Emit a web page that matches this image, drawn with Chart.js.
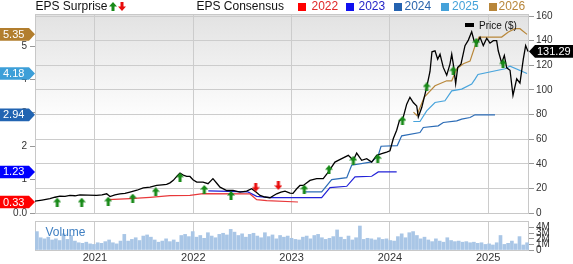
<!DOCTYPE html>
<html>
<head>
<meta charset="utf-8">
<script src="https://cdn.jsdelivr.net/npm/chart.js@4.4.1/dist/chart.umd.min.js"></script>
<style>
  body { margin: 0; background: #fff; font-family: "Liberation Sans", Arial, sans-serif; }
  #wrap { position: relative; width: 573px; height: 264px; overflow: hidden; }
  #wrap canvas { position: absolute; left: 0; }
  .lbl { position: absolute; white-space: nowrap; line-height: 14px; font-size: 12px; }
  .sq { position: absolute; width: 8px; height: 8px; top: 3px; }
</style>
</head>
<body>
<div id="wrap">
  <canvas id="main" width="573" height="224" style="top:0"></canvas>
  <canvas id="vol" width="573" height="51" style="top:213px"></canvas>

  <div class="lbl" style="left:35.5px;top:-1px;color:#111">EPS Surprise</div>
  <div class="lbl" style="left:196.5px;top:-1px;color:#111">EPS Consensus</div>
  <div class="sq" style="left:298px;background:#ff0000"></div>
  <div class="lbl" style="left:311.5px;top:-1px;color:#e02626">2022</div>
  <div class="sq" style="left:346px;background:#1010f0"></div>
  <div class="lbl" style="left:358.5px;top:-1px;color:#2424c8">2023</div>
  <div class="sq" style="left:393.5px;background:#2462b0"></div>
  <div class="lbl" style="left:404.5px;top:-1px;color:#2a64ac">2024</div>
  <div class="sq" style="left:441px;background:#45a2da"></div>
  <div class="lbl" style="left:452px;top:-1px;color:#45a2da">2025</div>
  <div class="sq" style="left:488.5px;background:#b8863a"></div>
  <div class="lbl" style="left:498.5px;top:-1px;color:#b8863a">2026</div>

  <div style="position:absolute;left:464.5px;top:22.5px;width:9.5px;height:4.5px;background:#000"></div>
  <div class="lbl" style="left:479px;top:18.5px;font-size:10px;color:#111">Price ($)</div>
  <div class="lbl" style="left:45.5px;top:225px;color:#3f7fc2">Volume</div>
</div>

<script>
// ---- data (dates as decimal years) ----
const priceDates = [
  2020.390, 2020.461, 2020.542, 2020.593, 2020.644, 2020.695, 2020.746, 2020.797, 2020.847, 2020.929,
  2021.017, 2021.071, 2021.119, 2021.153, 2021.203, 2021.254, 2021.305, 2021.356, 2021.427, 2021.491,
  2021.560, 2021.628, 2021.682, 2021.729, 2021.763, 2021.797, 2021.834, 2021.865, 2021.905, 2021.933,
  2021.966, 2021.997, 2022.035, 2022.099, 2022.150, 2022.200, 2022.241, 2022.272, 2022.340, 2022.404,
  2022.475, 2022.543, 2022.594, 2022.638, 2022.679, 2022.729, 2022.780, 2022.848, 2022.892, 2022.933,
  2022.984, 2023.014, 2023.052, 2023.085, 2023.119, 2023.187, 2023.255, 2023.322, 2023.373, 2023.441,
  2023.510, 2023.577, 2023.628, 2023.662, 2023.713, 2023.764, 2023.815, 2023.866, 2023.917, 2023.967,
  2024.001, 2024.035, 2024.069, 2024.096, 2024.136, 2024.171, 2024.204, 2024.238, 2024.273, 2024.289,
  2024.324, 2024.374, 2024.408, 2024.428, 2024.459, 2024.486, 2024.510, 2024.543, 2024.578, 2024.611,
  2024.629, 2024.645, 2024.669, 2024.690, 2024.723, 2024.764, 2024.798, 2024.832, 2024.856, 2024.883,
  2024.917, 2024.950, 2024.985, 2025.018, 2025.052, 2025.086, 2025.102, 2025.137, 2025.164, 2025.188,
  2025.222, 2025.252, 2025.290, 2025.323, 2025.357, 2025.381, 2025.405
];
const priceValues = [
  9.6, 10.5, 11.6, 12.8, 13.7, 13.5, 14.3, 14.0, 14.8, 14.5,
  14.3, 14.8, 15.6, 13.4, 14.8, 15.6, 16.0, 17.0, 18.5, 20.5,
  21.0, 22.4, 22.8, 23.2, 24.5, 26.5, 30.0, 32.4, 30.5, 29.7,
  29.7, 27.0, 25.1, 25.1, 23.8, 27.9, 24.0, 21.0, 18.3, 18.3,
  17.0, 17.8, 19.7, 17.0, 14.3, 13.0, 12.4, 15.6, 17.0, 17.8,
  16.1, 16.0, 19.7, 22.4, 22.4, 26.5, 27.9, 27.9, 33.2, 41.4,
  44.2, 46.8, 42.8, 48.7, 42.8, 44.2, 41.4, 46.8, 48.2, 49.5,
  50.6, 60.5, 67.2, 74.8, 77.8, 88.4, 94.0, 89.8, 87.0, 78.0,
  85.7, 102.0, 115.0, 131.0, 131.8, 125.0, 129.1, 118.3, 112.0, 121.0,
  129.1, 121.0, 105.0, 118.3, 121.0, 136.0, 140.5, 147.3, 140.0, 137.5,
  142.7, 136.0, 142.0, 138.0, 140.0, 140.0, 131.8, 122.0, 128.0, 118.0,
  116.0, 95.5, 109.0, 105.5, 125.0, 136.0, 131.29
];

const consensusYears = ['2022', '2023', '2024', '2025', '2026'];
const consensusColors = ['#e8383a', '#2222d8', '#2c6cb6', '#48a4dc', '#b8873a'];
const tagColors = ['#ff0000', '#0000ff', '#2264b2', '#3d9fd8', '#b27e2e'];

const eps2022Dates = [2021.135, 2021.356, 2021.560, 2021.763, 2021.966, 2022.099, 2022.577, 2022.645, 2022.747, 2023.065];
const eps2022Values = [0.40, 0.43, 0.47, 0.52, 0.53, 0.58, 0.57, 0.40, 0.37, 0.33];

const eps2023Dates = [2022.153, 2022.556, 2022.645, 2022.780, 2023.306, 2023.391, 2023.561, 2023.645, 2023.815, 2023.882, 2024.069];
const eps2023Values = [0.66, 0.63, 0.50, 0.46, 0.46, 0.76, 0.80, 1.08, 1.10, 1.23, 1.23];

const eps2024Dates = [2023.119, 2023.306, 2023.408, 2023.561, 2023.611, 2023.815, 2023.882, 2023.910, 2024.075, 2024.120,
  2024.306, 2024.340, 2024.492, 2024.543, 2024.680, 2024.730, 2024.815, 2024.866, 2025.069];
const eps2024Values = [0.63, 0.63, 1.00, 1.06, 1.43, 1.53, 1.73, 2.00, 2.02, 2.31,
  2.41, 2.56, 2.61, 2.71, 2.76, 2.81, 2.86, 2.94, 2.94];

const eps2025Dates = [2024.238, 2024.306, 2024.374, 2024.459, 2024.560, 2024.629, 2024.730, 2024.832, 2024.866, 2024.896, 2025.171, 2025.222, 2025.395];
const eps2025Values = [2.74, 2.74, 3.06, 3.31, 3.36, 3.66, 3.71, 3.86, 4.01, 4.15, 4.32, 4.40, 4.18];

const eps2026Dates = [2024.240, 2024.273, 2024.350, 2024.459, 2024.578, 2024.629, 2024.680, 2024.747, 2024.815, 2024.866, 2024.906, 2025.137, 2025.205, 2025.273, 2025.323, 2025.395];
const eps2026Values = [3.02, 2.92, 3.47, 3.81, 3.96, 3.96, 4.32, 4.47, 4.55, 5.00, 5.27, 5.27, 5.42, 5.52, 5.52, 5.35];

const beatDates = [2020.616, 2020.865, 2021.135, 2021.384, 2021.618, 2021.865, 2022.112, 2022.384,
  2023.129, 2023.380, 2023.628, 2023.876, 2024.128, 2024.374, 2024.645, 2024.879, 2025.151];
const beatLevels = [8.8, 8.8, 9.6, 12.1, 17.3, 29.2, 19.1, 14.3,
  19.4, 35.2, 42.8, 44.2, 75.1, 102.5, 115.5, 138.5, 121.2];
const missDates = [2022.635, 2022.865];
const missLevels = [21.0, 22.4];

// volume in millions, about every two weeks
const volumeValues = [
  3.3, 2.2, 2.0, 2.3,
  1.8, 2.0, 1.7, 2.9, 1.9, 2.6, 1.6,
  1.3, 1.2, 1.4, 1.1, 1.0, 1.3,
  1.2, 1.5, 1.8, 1.3, 1.1, 1.6, 2.8,
  1.6, 1.9, 2.2, 1.7, 2.5, 2.7, 2.3, 1.8, 1.4, 1.6, 2.0, 1.5, 1.8, 1.4,
  2.6, 2.8, 2.4, 3.3,
  2.3, 2.6, 2.1, 3.1, 2.5, 2.2, 2.8, 3.0, 2.7, 3.7, 3.2,
  2.6, 2.9, 2.3, 2.8, 3.0, 2.5, 2.2, 3.1, 2.4, 2.7, 2.0, 2.6, 2.3, 2.5, 2.1, 1.9,
  1.8, 2.3, 2.5, 2.0, 2.6, 2.8, 2.2, 1.9, 2.1, 2.4,
  3.6, 2.3, 1.9, 2.5, 1.8, 2.2, 4.3,
  1.9, 2.1, 2.0, 1.8, 2.2, 1.9, 2.0, 1.7,
  1.6, 2.4, 2.9, 2.2, 3.1, 3.3, 2.6, 2.0, 2.3,
  1.8, 1.5, 2.0, 1.6, 1.4, 2.2, 1.7, 1.5, 1.6, 1.4, 1.5, 1.3, 1.4, 1.2, 1.3,
  1.0, 1.1, 0.9, 1.3, 2.6, 1.0, 1.2, 1.6, 1.1, 2.4, 0.9, 1.3
];

const yearTicks = [2021, 2022, 2023, 2024, 2025];
const priceTicks = [0, 20, 40, 60, 80, 100, 120, 140, 160];
const epsTicks = [0, 1, 2, 3, 4, 5];
const volumeTicks = [0, 1, 2, 3, 4];

const X_MIN = 2020.39;
const X_MAX = 2025.415;
const FONT = '"Liberation Sans", Arial, sans-serif';

const xy = (xs, ys) => xs.map((x, i) => ({ x: x, y: ys[i] }));
const volumeDates = volumeValues.map((v, i) => X_MIN + (i + 0.5) * (X_MAX - X_MIN) / volumeValues.length);

function arrowImage(color, up) {
  const c = document.createElement('canvas');
  c.width = 8;
  c.height = 9;
  const g = c.getContext('2d');
  if (!up) {
    g.translate(0, 9);
    g.scale(1, -1);
  }
  g.fillStyle = color;
  g.beginPath();
  g.moveTo(4, 0);
  g.lineTo(8, 4.5);
  g.lineTo(5.5, 4.5);
  g.lineTo(5.5, 9);
  g.lineTo(2.5, 9);
  g.lineTo(2.5, 4.5);
  g.lineTo(0, 4.5);
  g.closePath();
  g.fill();
  return c;
}
const upArrow = arrowImage('#188a18', true);
const downArrow = arrowImage('#e80c0c', false);

const plotBackground = {
  id: 'plotBackground',
  beforeDraw(chart) {
    const { ctx, chartArea: a } = chart;
    const grad = ctx.createLinearGradient(0, a.top, 0, a.bottom);
    grad.addColorStop(0, '#e2e2e2');
    grad.addColorStop(0.55, '#ffffff');
    grad.addColorStop(1, '#ffffff');
    ctx.save();
    ctx.fillStyle = grad;
    ctx.fillRect(a.left, a.top, a.right - a.left, a.bottom - a.top);
    ctx.restore();
  },
  beforeDatasetsDraw(chart) {
    const { ctx, chartArea: a } = chart;
    ctx.save();
    ctx.strokeStyle = '#c8c8c8';
    ctx.lineWidth = 1;
    ctx.strokeRect(a.left + 0.5, a.top + 0.5, a.right - a.left - 1, a.bottom - a.top);
    ctx.restore();
  }
};

const tagPlugin = {
  id: 'tags',
  afterDraw(chart) {
    const { ctx, scales, chartArea: a } = chart;
    ctx.save();
    ctx.font = '11px ' + FONT;
    ctx.textBaseline = 'middle';
    ctx.textAlign = 'left';
    const series = [eps2022Values, eps2023Values, eps2024Values, eps2025Values, eps2026Values];
    series.forEach((vals, i) => {
      const v = vals[vals.length - 1];
      const y = scales.eps.getPixelForValue(v);
      ctx.fillStyle = tagColors[i];
      ctx.beginPath();
      ctx.moveTo(0, y - 6.3);
      ctx.lineTo(29, y - 6.3);
      ctx.lineTo(35, y);
      ctx.lineTo(29, y + 6.3);
      ctx.lineTo(0, y + 6.3);
      ctx.closePath();
      ctx.fill();
      ctx.fillStyle = '#fff';
      ctx.fillText(v.toFixed(2), 3, y + 0.5);
    });
    // latest price
    const last = priceValues[priceValues.length - 1];
    const py = scales.price.getPixelForValue(last);
    ctx.fillStyle = '#000';
    ctx.beginPath();
    ctx.moveTo(a.right, py);
    ctx.lineTo(a.right + 6, py - 6.3);
    ctx.lineTo(573, py - 6.3);
    ctx.lineTo(573, py + 6.3);
    ctx.lineTo(a.right + 6, py + 6.3);
    ctx.closePath();
    ctx.fill();
    ctx.fillStyle = '#fff';
    ctx.fillText(last.toFixed(2), a.right + 8, py + 0.5);
    // legend arrows
    ctx.drawImage(upArrow, 109, 2);
    ctx.drawImage(downArrow, 118, 2);
    ctx.restore();
  }
};

const tickFont = { family: FONT, size: 10 };

const consensusSets = [
  [eps2022Dates, eps2022Values], [eps2023Dates, eps2023Values], [eps2024Dates, eps2024Values],
  [eps2025Dates, eps2025Values], [eps2026Dates, eps2026Values]
].map((s, i) => ({
  label: consensusYears[i],
  data: xy(s[0], s[1]),
  yAxisID: 'eps',
  borderColor: consensusColors[i],
  borderWidth: 1.2,
  pointRadius: 0,
  tension: 0,
  order: 3
}));

new Chart(document.getElementById('main'), {
  type: 'line',
  data: {
    datasets: [
      {
        label: 'Beat',
        type: 'scatter',
        data: xy(beatDates, beatLevels),
        yAxisID: 'price',
        pointStyle: upArrow,
        order: 0
      },
      {
        label: 'Miss',
        type: 'scatter',
        data: xy(missDates, missLevels),
        yAxisID: 'price',
        pointStyle: downArrow,
        order: 0
      },
      {
        label: 'Price ($)',
        data: xy(priceDates, priceValues),
        yAxisID: 'price',
        borderColor: '#000',
        borderWidth: 1.3,
        pointRadius: 0,
        tension: 0,
        order: 1
      },
      ...consensusSets
    ]
  },
  options: {
    responsive: false,
    animation: false,
    devicePixelRatio: 1,
    layout: { padding: { top: 14, left: 0, right: 0, bottom: 0 } },
    plugins: {
      legend: { display: false },
      tooltip: { enabled: false }
    },
    scales: {
      x: {
        type: 'linear',
        min: X_MIN,
        max: X_MAX,
        afterBuildTicks: (s) => { s.ticks = yearTicks.map((v) => ({ value: v })); },
        ticks: { display: false },
        grid: { color: '#cccccc', drawTicks: false },
        border: { display: false },
        afterFit: (s) => { s.height = 11; }
      },
      eps: {
        position: 'left',
        min: 0,
        max: 5.96,
        afterBuildTicks: (s) => { s.ticks = epsTicks.map((v) => ({ value: v })); },
        ticks: {
          font: tickFont,
          color: '#333',
          padding: 3,
          callback: (v) => (v === 0 ? '0.0' : String(v))
        },
        grid: { drawOnChartArea: false, tickLength: 5, tickColor: '#999' },
        border: { display: false },
        afterFit: (s) => { s.width = 35; }
      },
      price: {
        position: 'right',
        min: 0,
        max: 161.7,
        afterBuildTicks: (s) => { s.ticks = priceTicks.map((v) => ({ value: v })); },
        ticks: {
          font: tickFont,
          color: '#333',
          padding: 2,
          callback: (v) => String(v)
        },
        grid: { color: '#cccccc', tickLength: 5, tickColor: '#999' },
        border: { display: false },
        afterFit: (s) => { s.width = 44; }
      }
    }
  },
  plugins: [plotBackground, tagPlugin]
});

const volumeFrame = {
  id: 'volumeFrame',
  beforeDatasetsDraw(chart) {
    const { ctx, chartArea: a } = chart;
    ctx.save();
    ctx.strokeStyle = '#c8c8c8';
    ctx.lineWidth = 1;
    ctx.strokeRect(a.left + 0.5, a.top + 0.5, a.right - a.left - 1, a.bottom - a.top);
    ctx.restore();
  }
};

new Chart(document.getElementById('vol'), {
  type: 'bar',
  data: {
    datasets: [{
      label: 'Volume',
      data: xy(volumeDates, volumeValues),
      yAxisID: 'vol',
      backgroundColor: '#a9c6e6',
      barThickness: 3
    }]
  },
  options: {
    responsive: false,
    animation: false,
    devicePixelRatio: 1,
    layout: { padding: { top: 5, left: 35, right: 0, bottom: 0 } },
    plugins: {
      legend: { display: false },
      tooltip: { enabled: false }
    },
    scales: {
      x: {
        type: 'linear',
        offset: false,
        min: X_MIN,
        max: X_MAX,
        afterBuildTicks: (s) => { s.ticks = yearTicks.map((v) => ({ value: v })); },
        ticks: { font: { family: FONT, size: 11 }, color: '#333', padding: 1, maxRotation: 0, callback: (v) => String(v) },
        grid: { color: '#cccccc', drawTicks: false, offset: false },
        border: { display: false },
        afterFit: (s) => { s.height = 14; }
      },
      vol: {
        position: 'right',
        min: 0,
        max: 5.2,
        afterBuildTicks: (s) => { s.ticks = volumeTicks.map((v) => ({ value: v })); },
        ticks: {
          autoSkip: false,
          font: tickFont,
          color: '#333',
          padding: 2,
          callback: (v) => (v === 0 ? '0' : v + 'M')
        },
        grid: { drawOnChartArea: false, tickLength: 5, tickColor: '#999' },
        border: { display: false },
        afterFit: (s) => { s.width = 44; }
      }
    }
  },
  plugins: [volumeFrame]
});
</script>
</body>
</html>
